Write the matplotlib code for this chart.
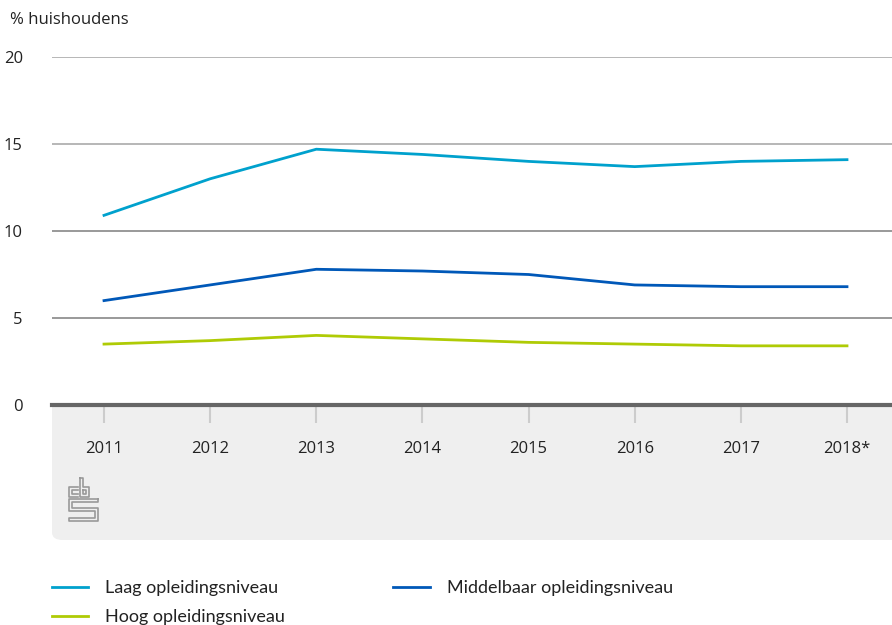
import matplotlib.pyplot as plt
from matplotlib.patches import FancyBboxPatch, Rectangle

# data
years = [2011, 2012, 2013, 2014, 2015, 2016, 2017, 2018]
year_labels = ['2011', '2012', '2013', '2014', '2015', '2016', '2017', '2018*']
laag = [10.9, 13.0, 14.7, 14.4, 14.0, 13.7, 14.0, 14.1]
middel = [6.0, 6.9, 7.8, 7.7, 7.5, 6.9, 6.8, 6.8]
hoog = [3.5, 3.7, 4.0, 3.8, 3.6, 3.5, 3.4, 3.4]
yticks = [0, 5, 10, 15, 20]

plt.rcParams['font.family'] = ['Open Sans', 'DejaVu Sans']

fig = plt.figure(figsize=(8.92, 6.25), dpi=100)
W, H = 892, 625

# grey panel under the axis (rounded only at the bottom left)
panel = FancyBboxPatch((52 / W, 85 / H), 1 - 52 / W + 0.02, 100 / H,
                       boxstyle='round,pad=0,rounding_size=0.012',
                       transform=fig.transFigure, facecolor='#efefef',
                       edgecolor='none', zorder=-2)
panel2 = Rectangle((52 / W, 140 / H), 1 - 52 / W, 80 / H,
                   transform=fig.transFigure, facecolor='#efefef',
                   edgecolor='none', zorder=-2)
fig.patches.extend([panel, panel2])

ax = fig.add_axes([52 / W, 220 / H, 1 - 52 / W, 348 / H])
ax.patch.set_alpha(0)

l1, = ax.plot(years, laag, color='#00a1cd', lw=2, label='Laag opleidingsniveau')
l2, = ax.plot(years, middel, color='#0058b8', lw=2, label='Middelbaar opleidingsniveau')
l3, = ax.plot(years, hoog, color='#afcb05', lw=2, label='Hoog opleidingsniveau')

ax.set_xlim(2010.51, 2018.424)
ax.set_ylim(0, 20)
for s in ['top', 'right', 'left']:
    ax.spines[s].set_visible(False)
ax.spines['bottom'].set_color('#666666')
ax.spines['bottom'].set_linewidth(3)
ax.spines['bottom'].set_zorder(5)

grid_cols = {5: '#888888', 10: '#888888', 15: '#aaaaaa', 20: '#aaaaaa'}
for v in yticks[1:]:
    ax.axhline(v, color=grid_cols[v], lw=1.2, zorder=1)

ax.set_yticks(yticks)
ax.set_yticklabels([str(v) for v in yticks], fontsize=12, color='#222222')
ax.tick_params(axis='y', length=0, pad=21)

ax.set_xticks(years)
ax.set_xticklabels(year_labels, fontsize=12, color='#222222')
ax.tick_params(axis='x', length=13, width=1.5, color='#cccccc', pad=13, direction='out')

fig.text(10 / W, 1 - 20 / H, '% huishoudens', fontsize=12, color='#222222', va='center')

# simple cbs mark
lc = '#999999'
def seg(xs, ys):
    fig.add_artist(plt.Line2D([x / W for x in xs], [1 - y / H for y in ys],
                              color=lc, lw=1.2, transform=fig.transFigure))
# c
seg([78, 69, 69, 78], [487, 487, 497, 497])
seg([78, 72, 72, 78], [490, 490, 494, 494])
# b
seg([80, 80, 89, 89, 83, 83, 80], [478, 497, 497, 487, 487, 478, 478])
seg([83, 86, 86, 83, 83], [490, 490, 494, 494, 490])
# s
seg([98, 69, 69, 95, 95, 69, 69, 98, 98, 72, 72, 98, 98],
    [499, 499, 511, 511, 518, 518, 521, 521, 508, 508, 502, 502, 499])

leg = fig.legend(handles=[l1, l3, l2], loc='upper left',
                 bbox_to_anchor=(52 / W, 1 - 580 / H), ncol=2, frameon=False,
                 borderpad=0, borderaxespad=0,
                 handlelength=2.0, handletextpad=0.95,
                 columnspacing=6.0, labelspacing=0.72,
                 prop={'family': ['Lato', 'DejaVu Sans'], 'size': 13})
for t in leg.get_texts():
    t.set_color('#222222')

fig.savefig('out.png', dpi=100)
